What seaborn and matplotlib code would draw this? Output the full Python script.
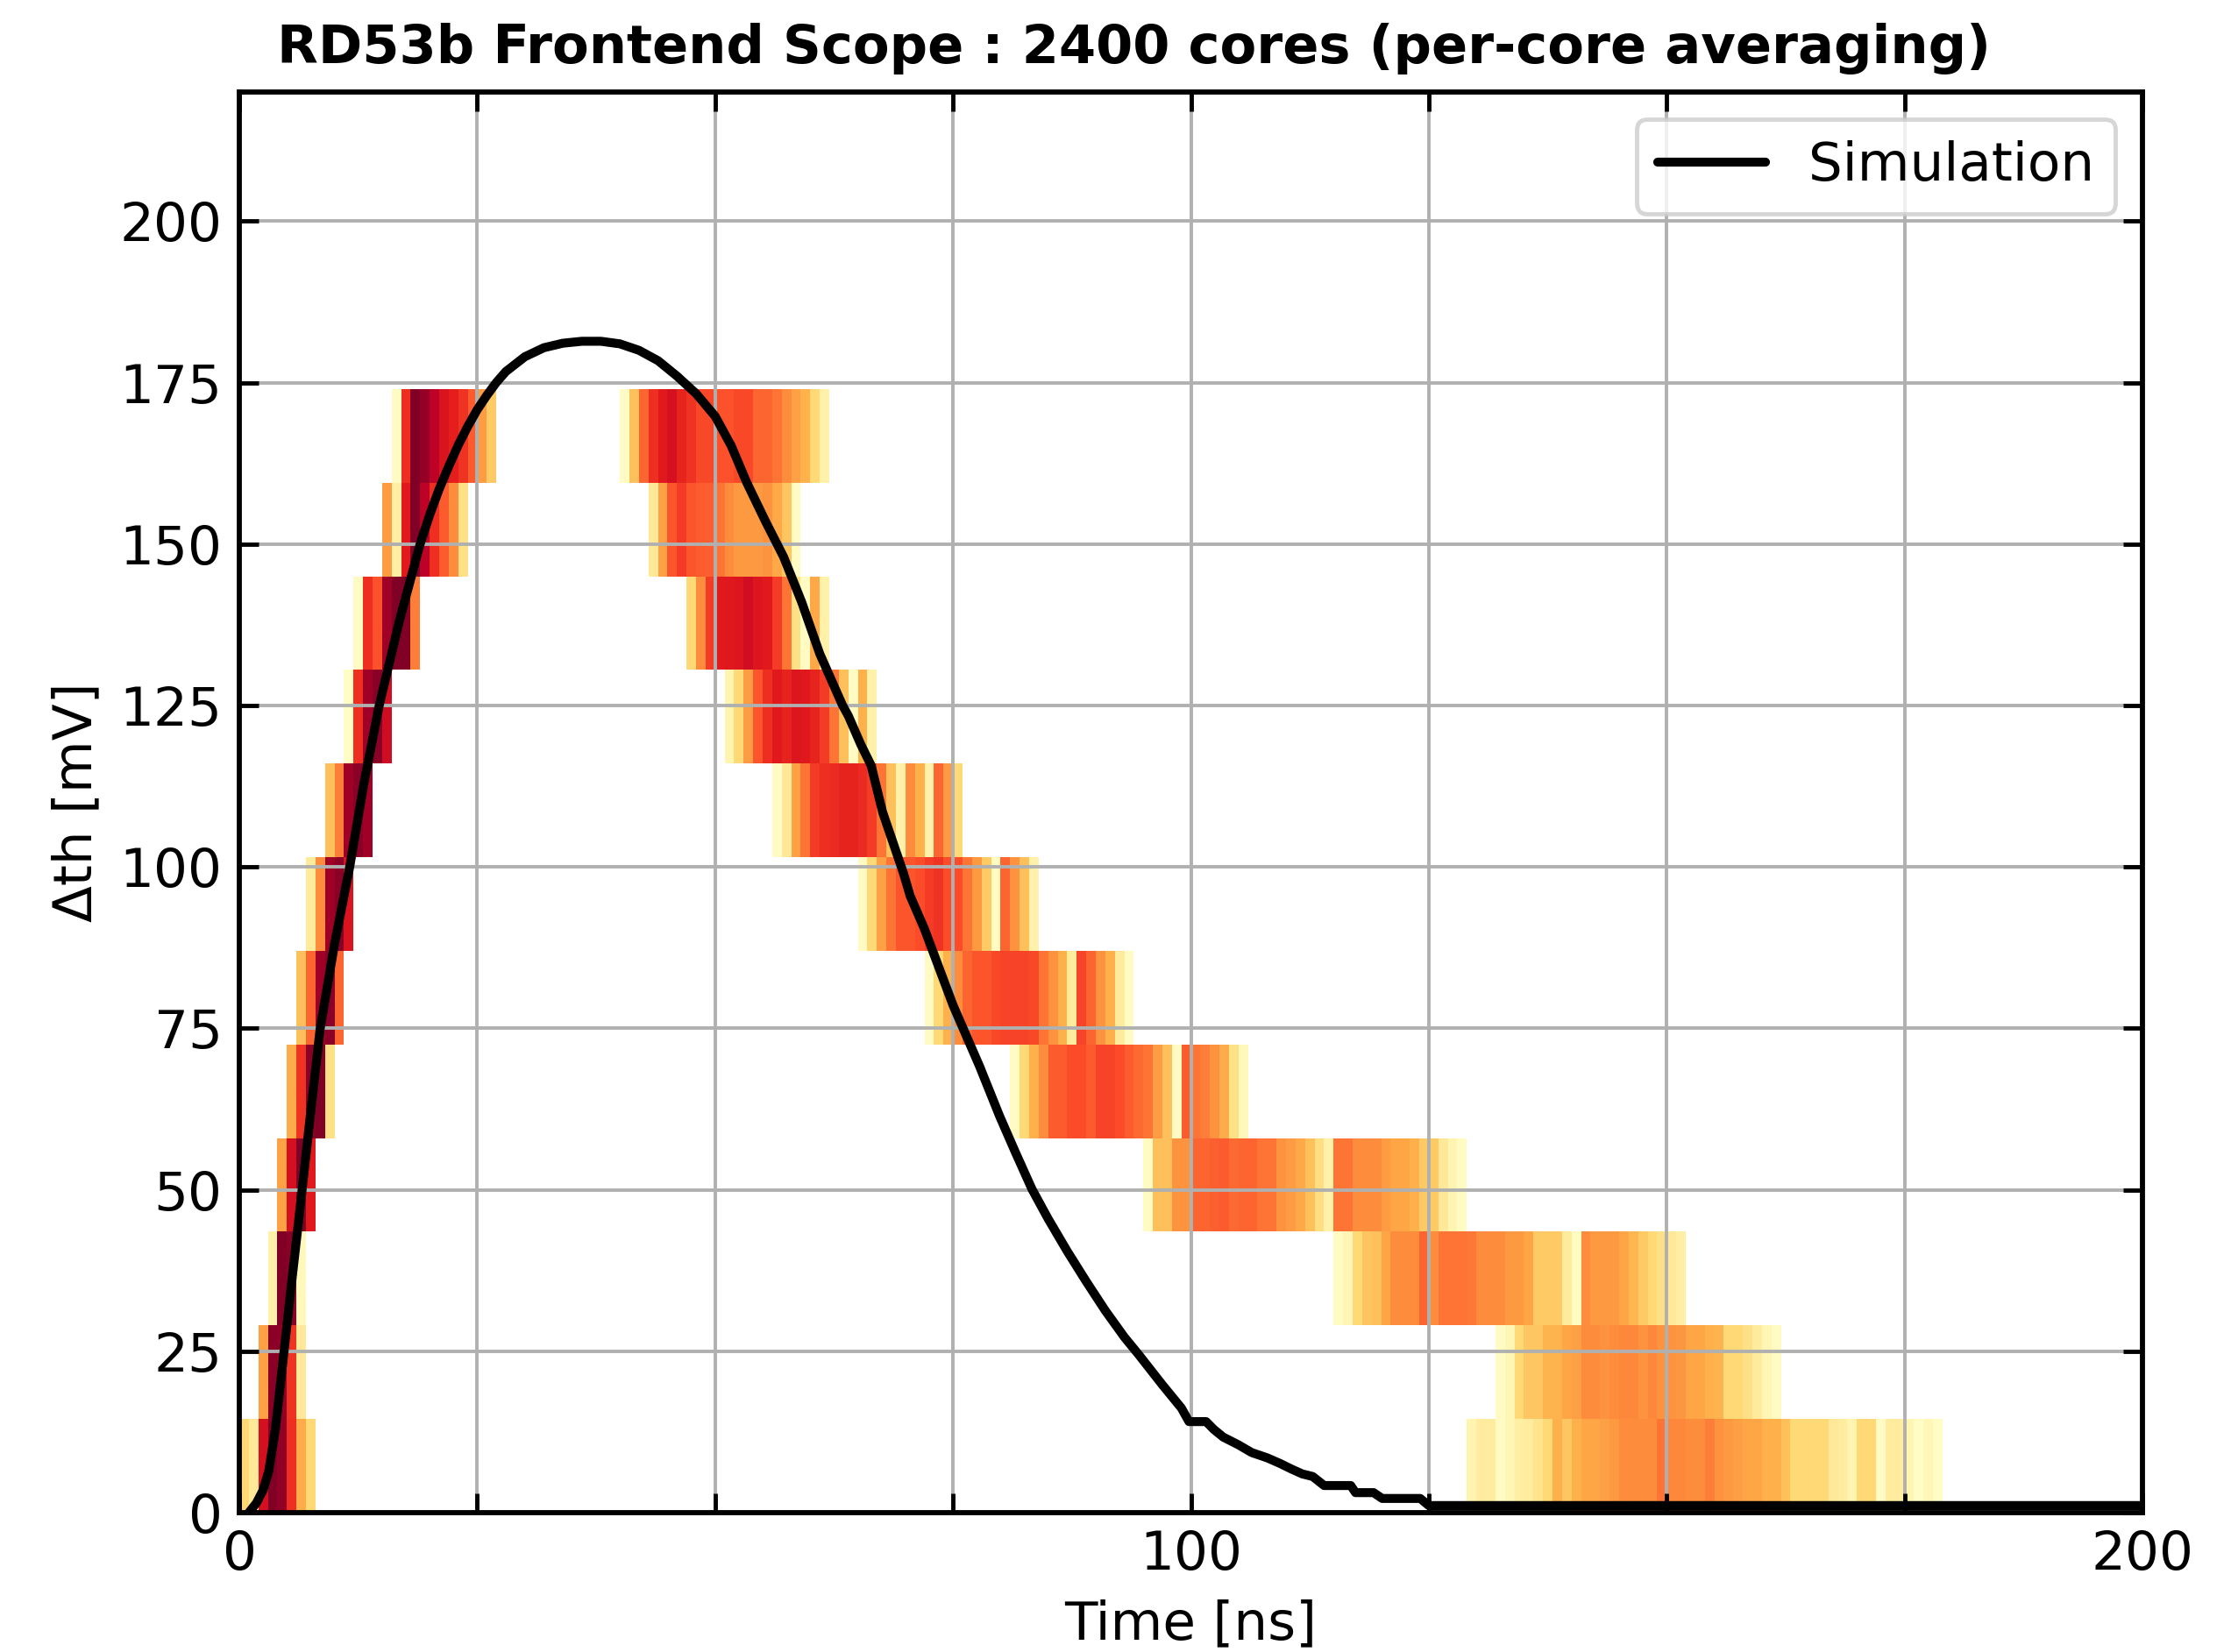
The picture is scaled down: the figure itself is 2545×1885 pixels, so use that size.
import numpy as np
import pandas as pd
import matplotlib
matplotlib.use("Agg")
import matplotlib.pyplot as plt
import seaborn as sns

# ---------------------------------------------------------------------------
# Scope occupancy: 12 threshold rows of 14.5 mV, 1 ns time bins.
# Each row has a rising-edge cluster and a falling-edge cluster; the lists
# give the first time bin of the cluster and the per-bin averaged occupancy.
# ---------------------------------------------------------------------------
time_bin = 1.0
dth_step = 14.5
n_rows = 12

rise_start = [0, 2, 3, 4, 5, 6, 7, 9, 11, 12, 15, 16]
rise_vals = [
    [0.25, 0.15, 0.80, 1.00, 0.96, 0.70, 0.40, 0.25],
    [0.43, 0.98, 0.96, 0.69, 0.15],
    [0.10, 1.00, 0.98, 0.05],
    [0.43, 0.80, 1.00, 0.75],
    [0.40, 0.69, 0.98, 1.00, 0.20],
    [0.33, 0.58, 0.93, 0.98, 0.58],
    [0.14, 0.50, 0.93, 0.98, 0.78],
    [0.33, 0.53, 0.93, 0.98, 0.93],
    [0.02, 0.70, 0.93, 0.98, 0.82],
    [0.03, 0.70, 0.62, 0.93, 1.00, 1.00, 0.53],
    [0.45, 0.12, 0.75, 1.00, 0.87, 0.70, 0.60, 0.50, 0.20],
    [0.03, 0.70, 1.00, 0.95, 0.87, 0.78, 0.74, 0.69, 0.60, 0.45, 0.30],
]

fall_start = [129, 132, 115, 95, 81, 72, 65, 56, 51, 47, 43, 40]
fall_vals = [
    [0.08, 0.13, 0.13, 0.03, 0.07, 0.11, 0.13, 0.18, 0.25, 0.38, 0.31, 0.38,
     0.42, 0.42, 0.44, 0.46, 0.50, 0.50, 0.50, 0.50, 0.55, 0.51, 0.51, 0.50,
     0.50, 0.53, 0.48, 0.46, 0.44, 0.42, 0.42, 0.38, 0.38, 0.33, 0.25, 0.25,
     0.25, 0.25, 0.15, 0.13, 0.08, 0.25, 0.25, 0.03, 0.13, 0.13, 0.08, 0.02,
     0.06, 0.02],
    [0.03, 0.07, 0.25, 0.31, 0.31, 0.37, 0.37, 0.42, 0.44, 0.50, 0.50, 0.48,
     0.50, 0.51, 0.51, 0.48, 0.51, 0.48, 0.48, 0.47, 0.42, 0.42, 0.38, 0.37,
     0.25, 0.25, 0.20, 0.14, 0.07, 0.03],
    [0.03, 0.07, 0.25, 0.32, 0.33, 0.42, 0.50, 0.50, 0.50, 0.58, 0.50, 0.55,
     0.55, 0.55, 0.54, 0.50, 0.50, 0.50, 0.46, 0.46, 0.42, 0.30, 0.30, 0.30,
     0.14, 0.03, 0.50, 0.46, 0.46, 0.46, 0.42, 0.36, 0.30, 0.25, 0.20, 0.15,
     0.12],
    [0.03, 0.33, 0.33, 0.48, 0.48, 0.58, 0.58, 0.59, 0.60, 0.57, 0.58, 0.58,
     0.55, 0.55, 0.48, 0.45, 0.41, 0.33, 0.22, 0.10, 0.55, 0.55, 0.50, 0.50,
     0.50, 0.45, 0.42, 0.42, 0.38, 0.30, 0.30, 0.15, 0.08, 0.03],
    [0.03, 0.25, 0.38, 0.50, 0.60, 0.60, 0.63, 0.63, 0.60, 0.65, 0.65, 0.63,
     0.60, 0.57, 0.55, 0.45, 0.33, 0.03, 0.60, 0.55, 0.53, 0.48, 0.40, 0.20,
     0.05],
    [0.03, 0.25, 0.38, 0.50, 0.58, 0.61, 0.61, 0.64, 0.65, 0.65, 0.65, 0.64,
     0.55, 0.48, 0.38, 0.14, 0.65, 0.58, 0.48, 0.38, 0.14, 0.03],
    [0.03, 0.25, 0.43, 0.55, 0.61, 0.61, 0.63, 0.67, 0.69, 0.63, 0.63, 0.55,
     0.46, 0.30, 0.03, 0.58, 0.48, 0.33, 0.10],
    [0.03, 0.15, 0.43, 0.55, 0.67, 0.70, 0.71, 0.73, 0.73, 0.71, 0.67, 0.55,
     0.33, 0.10, 0.50, 0.38, 0.10, 0.58, 0.46, 0.25],
    [0.08, 0.25, 0.45, 0.61, 0.70, 0.75, 0.73, 0.77, 0.76, 0.73, 0.67, 0.55,
     0.33, 0.03, 0.38, 0.10],
    [0.25, 0.50, 0.67, 0.75, 0.76, 0.77, 0.81, 0.77, 0.75, 0.67, 0.55, 0.20,
     0.03, 0.41, 0.10],
    [0.15, 0.43, 0.61, 0.67, 0.61, 0.60, 0.59, 0.55, 0.50, 0.46, 0.46, 0.46,
     0.48, 0.41, 0.32, 0.03],
    [0.03, 0.33, 0.58, 0.70, 0.75, 0.79, 0.73, 0.69, 0.64, 0.64, 0.62, 0.62,
     0.64, 0.64, 0.58, 0.58, 0.55, 0.50, 0.43, 0.375, 0.25, 0.10],
]

# Simulated front-end pulse (ns, mV)
sim_t = [1.0, 1.8, 2.5, 3.1, 3.8, 4.7, 5.6, 6.6, 7.5, 8.5, 10.0, 11.6, 13.1,
         14.7, 16.8, 19.0, 20.0, 21.0, 22.0, 23.0, 24.0, 25.0, 26.0, 27.0,
         28.0, 30.0, 32.0, 34.0, 36.0, 38.0, 40.0, 42.0, 44.0, 46.0, 48.0,
         50.0, 51.7, 53.3, 55.3, 57.2, 59.1, 61.0, 63.4, 64.0, 65.3, 66.4,
         67.6, 69.8, 70.5, 72.0, 75.0, 77.8, 79.9, 81.5, 83.3, 85.0, 87.0,
         89.0, 91.0, 93.0, 94.5, 97.0, 99.0, 99.8, 101.6, 102.4, 103.4,
         105.0, 106.4, 108.0, 109.4, 110.5, 111.7, 112.8, 114.0, 116.8,
         117.3, 119.2, 120.1, 124.1, 125.0, 200.0]
sim_v = [0.0, 1.5, 3.5, 6.5, 13.0, 25.0, 37.0, 50.0, 62.0, 75.0, 88.0, 100.0,
         113.0, 125.0, 138.0, 150.0, 154.5, 158.5, 162.0, 165.3, 168.2, 170.8,
         173.0, 175.0, 176.7, 179.0, 180.4, 181.1, 181.4, 181.4, 181.0, 180.0,
         178.4, 176.0, 173.3, 169.8, 165.2, 159.6, 153.5, 148.0, 141.0, 133.0,
         125.0, 123.4, 119.0, 115.7, 108.5, 99.0, 95.5, 90.4, 78.6, 69.1,
         61.4, 56.0, 50.1, 45.5, 40.5, 35.8, 31.3, 27.2, 24.5, 19.8, 16.2,
         14.1, 14.1, 12.9, 11.7, 10.5, 9.3, 8.5, 7.6, 6.8, 6.0, 5.6, 4.2,
         4.2, 3.1, 3.1, 2.2, 2.2, 1.1, 1.1]

x_ticks = [0, 25, 50, 75, 100, 125, 150, 175, 200]
x_tick_labels = ["0", "", "", "", "100", "", "", "", "200"]
y_ticks = [0, 25, 50, 75, 100, 125, 150, 175, 200]

title = "RD53b Frontend Scope : 2400 cores (per-core averaging)"
font_pt = 12.6

# ---------------------------------------------------------------------------
sns.set_theme(style="ticks", rc={
    "axes.linewidth": 1.2,
    "xtick.direction": "in",
    "ytick.direction": "in",
    "xtick.top": True,
    "ytick.right": True,
    "xtick.major.size": 4.5,
    "ytick.major.size": 4.5,
    "xtick.major.width": 1.0,
    "ytick.major.width": 1.0,
    "xtick.color": "black",
    "ytick.color": "black",
    "axes.edgecolor": "black",
    "text.color": "black",
    "axes.labelcolor": "black",
})
plt.rcParams["font.family"] = ["DejaVu Sans"]

records = []
for r in range(n_rows):
    for start, vals in ((rise_start[r], rise_vals[r]), (fall_start[r], fall_vals[r])):
        for i, v in enumerate(vals):
            records.append({"time": (start + i + 0.5) * time_bin,
                            "dth": (r + 0.5) * dth_step,
                            "occ": v})
df = pd.DataFrame(records)

x_edges = np.linspace(0, 200, 201)
y_edges = np.linspace(0, n_rows * dth_step, n_rows + 1)

W, H, DPI = 2545, 1885, 350
fig = plt.figure(figsize=(W / DPI, H / DPI), dpi=DPI)
ax = fig.add_axes([273 / W, 1 - 1726 / H, (2444 - 273) / W, (1726 - 105) / H])

sns.histplot(data=df, x="time", y="dth", weights="occ",
             bins=(x_edges, y_edges), cmap="YlOrRd", ax=ax)
mesh = ax.collections[-1]
mesh.set_clim(0, 1)
mesh.set_zorder(1)

sns.lineplot(x=sim_t, y=sim_v, ax=ax, color="black", linewidth=2.1,
             label="Simulation", estimator=None, sort=False)

ax.set_xlim(0, 200)
ax.set_ylim(0, 220)
ax.set_xticks(x_ticks)
ax.set_xticklabels(x_tick_labels)
ax.set_yticks(y_ticks)
ax.tick_params(labelsize=font_pt, pad=4)
ax.grid(True, color="#b0b0b0", linewidth=0.8)
ax.set_axisbelow("line")
for s in ax.spines.values():
    s.set_visible(True)
    s.set_linewidth(1.2)
    s.set_zorder(3)

ax.set_xlabel("Time [ns]", fontsize=font_pt)
ax.set_ylabel("Δth [mV]", fontsize=font_pt)

leg = ax.legend(loc="upper right", fontsize=font_pt, frameon=True, fancybox=True,
                framealpha=0.8, edgecolor="0.8")

fig.text(1294 / W, 1 - 72 / H, title, ha="center", va="baseline",
         fontsize=12.5, fontweight="bold")

fig.savefig("out.png", dpi=DPI)
